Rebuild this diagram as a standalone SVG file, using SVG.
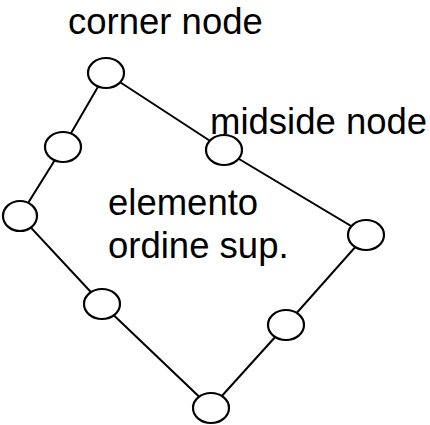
<svg xmlns="http://www.w3.org/2000/svg" width="430" height="425" viewBox="0 0 430 425">
  <style>
    .edge { stroke: #000; stroke-width: 2; fill: none; }
    .node { fill: #fff; stroke: #000; stroke-width: 2.2; }
    .label { font-family: "Liberation Sans", Arial, sans-serif; font-size: 36.5px; fill: #000; }
  </style>
  <rect width="430" height="425" fill="#fff"/>
  <!-- element edges, drawn between node centres -->
  <g id="connectors">
    <polyline class="edge" points="106,73 224,150 366,235 286,325 211,408 102,304 20,216 63,147 106,73"/>
  </g>
  <!-- corner nodes -->
  <g id="corner-top"><ellipse class="node" cx="106" cy="73" rx="18" ry="15"/></g>
  <g id="corner-right"><ellipse class="node" cx="366" cy="235" rx="18" ry="15"/></g>
  <g id="corner-bottom"><ellipse class="node" cx="211" cy="408" rx="18" ry="15"/></g>
  <g id="corner-left"><ellipse class="node" cx="20" cy="216" rx="17" ry="15"/></g>
  <!-- midside nodes -->
  <g id="mid-top"><ellipse class="node" cx="224" cy="150" rx="18" ry="15"/></g>
  <g id="mid-right"><ellipse class="node" cx="286" cy="325" rx="18" ry="15"/></g>
  <g id="mid-bottom"><ellipse class="node" cx="102" cy="304" rx="18" ry="15"/></g>
  <g id="mid-left"><ellipse class="node" cx="63" cy="147" rx="18" ry="15"/></g>
  <!-- labels -->
  <g id="labels">
    <text class="label" x="68" y="34">corner node</text>
    <text class="label" x="210" y="134">midside node</text>
    <text class="label" x="108" y="215">elemento</text>
    <text class="label" x="108" y="258">ordine sup.</text>
  </g>
</svg>
